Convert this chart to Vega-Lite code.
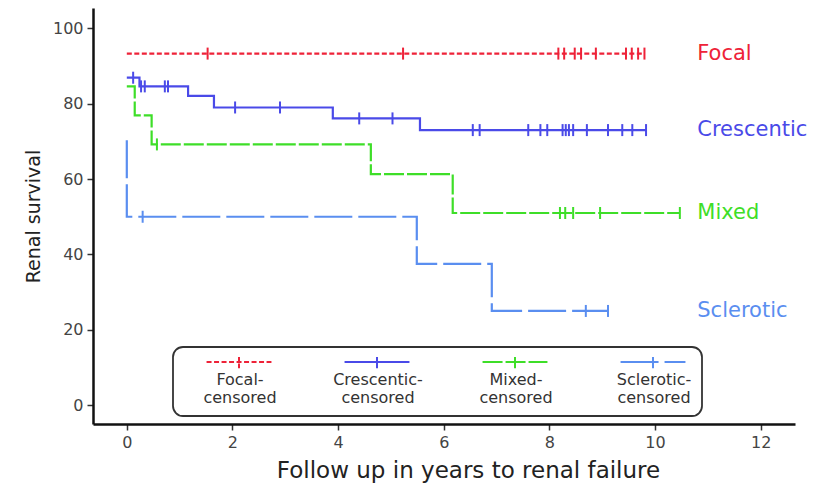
{
  "$schema": "https://vega.github.io/schema/vega-lite/v6.json",
  "width": 702,
  "height": 416,
  "autosize": {"type": "none"},
  "padding": {"left": 93, "top": 8, "right": 33, "bottom": 62},
  "background": "white",
  "data": {
    "values": [
      {"group": "Focal", "t": 0, "s": 93.3, "c": 0},
      {"group": "Focal", "t": 1.53, "s": 93.3, "c": 1},
      {"group": "Focal", "t": 5.23, "s": 93.3, "c": 1},
      {"group": "Focal", "t": 8.17, "s": 93.3, "c": 1},
      {"group": "Focal", "t": 8.28, "s": 93.3, "c": 1},
      {"group": "Focal", "t": 8.48, "s": 93.3, "c": 1},
      {"group": "Focal", "t": 8.6, "s": 93.3, "c": 1},
      {"group": "Focal", "t": 8.88, "s": 93.3, "c": 1},
      {"group": "Focal", "t": 9.45, "s": 93.3, "c": 1},
      {"group": "Focal", "t": 9.56, "s": 93.3, "c": 1},
      {"group": "Focal", "t": 9.68, "s": 93.3, "c": 1},
      {"group": "Focal", "t": 9.8, "s": 93.3, "c": 1},

      {"group": "Crescentic", "t": 0, "s": 86.9, "c": 0},
      {"group": "Crescentic", "t": 0.12, "s": 86.9, "c": 1},
      {"group": "Crescentic", "t": 0.24, "s": 84.6, "c": 0},
      {"group": "Crescentic", "t": 0.27, "s": 84.6, "c": 1},
      {"group": "Crescentic", "t": 0.34, "s": 84.6, "c": 1},
      {"group": "Crescentic", "t": 0.72, "s": 84.6, "c": 1},
      {"group": "Crescentic", "t": 0.78, "s": 84.6, "c": 1},
      {"group": "Crescentic", "t": 1.16, "s": 82.1, "c": 0},
      {"group": "Crescentic", "t": 1.65, "s": 79.0, "c": 0},
      {"group": "Crescentic", "t": 2.05, "s": 79.0, "c": 1},
      {"group": "Crescentic", "t": 2.9, "s": 79.0, "c": 1},
      {"group": "Crescentic", "t": 3.9, "s": 76.1, "c": 0},
      {"group": "Crescentic", "t": 4.4, "s": 76.1, "c": 1},
      {"group": "Crescentic", "t": 5.03, "s": 76.1, "c": 1},
      {"group": "Crescentic", "t": 5.55, "s": 73.0, "c": 0},
      {"group": "Crescentic", "t": 6.55, "s": 73.0, "c": 1},
      {"group": "Crescentic", "t": 6.68, "s": 73.0, "c": 1},
      {"group": "Crescentic", "t": 7.6, "s": 73.0, "c": 1},
      {"group": "Crescentic", "t": 7.83, "s": 73.0, "c": 1},
      {"group": "Crescentic", "t": 7.96, "s": 73.0, "c": 1},
      {"group": "Crescentic", "t": 8.25, "s": 73.0, "c": 1},
      {"group": "Crescentic", "t": 8.31, "s": 73.0, "c": 1},
      {"group": "Crescentic", "t": 8.37, "s": 73.0, "c": 1},
      {"group": "Crescentic", "t": 8.45, "s": 73.0, "c": 1},
      {"group": "Crescentic", "t": 8.71, "s": 73.0, "c": 1},
      {"group": "Crescentic", "t": 9.11, "s": 73.0, "c": 1},
      {"group": "Crescentic", "t": 9.38, "s": 73.0, "c": 1},
      {"group": "Crescentic", "t": 9.57, "s": 73.0, "c": 1},
      {"group": "Crescentic", "t": 9.83, "s": 73.0, "c": 1},

      {"group": "Mixed", "t": 0, "s": 84.6, "c": 0},
      {"group": "Mixed", "t": 0.15, "s": 76.9, "c": 0},
      {"group": "Mixed", "t": 0.47, "s": 69.2, "c": 0},
      {"group": "Mixed", "t": 0.57, "s": 69.2, "c": 1},
      {"group": "Mixed", "t": 4.62, "s": 61.3, "c": 0},
      {"group": "Mixed", "t": 6.17, "s": 51.0, "c": 0},
      {"group": "Mixed", "t": 8.2, "s": 51.0, "c": 1},
      {"group": "Mixed", "t": 8.3, "s": 51.0, "c": 1},
      {"group": "Mixed", "t": 8.45, "s": 51.0, "c": 1},
      {"group": "Mixed", "t": 8.96, "s": 51.0, "c": 1},
      {"group": "Mixed", "t": 10.47, "s": 51.0, "c": 1},

      {"group": "Sclerotic", "t": 0, "s": 70.3, "c": 0},
      {"group": "Sclerotic", "t": 0, "s": 50.0, "c": 0},
      {"group": "Sclerotic", "t": 0.3, "s": 50.0, "c": 1},
      {"group": "Sclerotic", "t": 5.49, "s": 37.5, "c": 0},
      {"group": "Sclerotic", "t": 6.91, "s": 25.0, "c": 0},
      {"group": "Sclerotic", "t": 8.69, "s": 25.0, "c": 1},
      {"group": "Sclerotic", "t": 9.11, "s": 25.0, "c": 1}
    ]
  },
  "encoding": {
    "x": {
      "field": "t",
      "type": "quantitative",
      "scale": {"domain": [-0.64, 12.65], "nice": false, "zero": false},
      "axis": {
        "values": [0, 2, 4, 6, 8, 10, 12],
        "title": "Follow up in years to renal failure",
        "titleX": 375
      }
    },
    "y": {
      "field": "s",
      "type": "quantitative",
      "scale": {"domain": [-5, 105.4], "nice": false, "zero": false},
      "axis": {
        "values": [0, 20, 40, 60, 80, 100],
        "title": "Renal survival"
      }
    },
    "color": {
      "field": "group",
      "type": "nominal",
      "scale": {
        "domain": ["Focal", "Crescentic", "Mixed", "Sclerotic"],
        "range": ["#ee2238", "#4a4ae8", "#3ede28", "#5a8ef0"]
      },
      "legend": {
        "title": null,
        "orient": "none",
        "legendX": 80,
        "legendY": 339,
        "direction": "horizontal",
        "columns": 4,
        "columnPadding": 36,
        "gridAlign": "all",
        "padding": 10,
        "clipHeight": 30,
        "strokeColor": "#333333",
        "cornerRadius": 10,
        "symbolType": "M-1,-0.29M1,-0.29M0,-0.29V-0.07M-0.59,-0.18H0.59",
        "symbolSize": 12100,
        "symbolStrokeWidth": 2,
        "symbolOffset": 0,
        "labelOffset": -55,
        "labelAlign": "center",
        "labelBaseline": "top",
        "labelExpr": "[datum.label + '-', 'censored']",
        "encode": {"legend": {"update": {"strokeWidth": {"value": 1.8}}}}
      }
    }
  },
  "layer": [
    {
      "mark": {"type": "line", "interpolate": "step-after", "strokeWidth": 2.2},
      "encoding": {
        "strokeDash": {
          "field": "group",
          "type": "nominal",
          "scale": {
            "domain": ["Focal", "Crescentic", "Mixed", "Sclerotic"],
            "range": [[5, 2.5], [1, 0], [20, 3], [38, 6]]
          },
          "legend": {
            "title": null,
            "orient": "none",
            "legendX": 80,
            "legendY": 339,
            "direction": "horizontal",
            "columns": 4,
            "columnPadding": 36,
            "gridAlign": "all",
            "padding": 10,
            "clipHeight": 30,
            "strokeColor": "#333333",
            "cornerRadius": 10,
            "symbolType": "M-1,-0.29M1,-0.29M0,-0.29V-0.07M-0.59,-0.18H0.59",
            "symbolSize": 12100,
            "symbolStrokeWidth": 2,
            "symbolOffset": 0,
            "labelOffset": -55,
            "labelAlign": "center",
            "labelBaseline": "top",
            "labelExpr": "[datum.label + '-', 'censored']",
            "encode": {"legend": {"update": {"strokeWidth": {"value": 1.8}}}}
          }
        }
      }
    },
    {
      "transform": [{"filter": "datum.c == 1"}],
      "mark": {"type": "tick", "orient": "vertical", "size": 12, "thickness": 2, "opacity": 1}
    },
    {
      "transform": [
        {"joinaggregate": [{"op": "max", "field": "t", "as": "tend"}], "groupby": ["group"]},
        {"filter": "datum.t == datum.tend"}
      ],
      "mark": {"type": "text", "align": "left", "baseline": "middle", "fontSize": 21, "font": "DejaVu Sans"},
      "encoding": {
        "x": {"datum": 10.8},
        "text": {"field": "group", "type": "nominal"}
      }
    }
  ],
  "config": {
    "view": {"stroke": null},
    "font": "DejaVu Sans",
    "axis": {
      "grid": false,
      "domainColor": "#111111",
      "domainWidth": 2.5,
      "tickColor": "#333333",
      "tickWidth": 1.5,
      "tickSize": 6,
      "labelFont": "DejaVu Sans",
      "labelFontSize": 16,
      "labelColor": "#444444",
      "labelPadding": 4,
      "titleFont": "DejaVu Sans",
      "titleFontWeight": "normal",
      "titleColor": "#222222"
    },
    "axisX": {"titleFontSize": 23, "titlePadding": 9},
    "axisY": {"titleFontSize": 19, "titlePadding": 9},
    "legend": {
      "labelFont": "DejaVu Sans",
      "labelFontSize": 16,
      "labelColor": "#333333",
      "labelLimit": 0
    }
  }
}
